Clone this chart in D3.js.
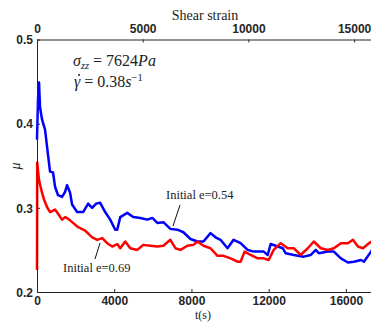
<!DOCTYPE html>
<html><head><meta charset="utf-8">
<script src="https://cdn.jsdelivr.net/npm/d3@7"></script>
<style>body{margin:0;background:#fff;}svg{display:block;}</style>
</head><body>
<script>
const blueT = [0,52,104,156,260,416,571,675,831,935,1091,1299,1455,1558,1714,1818,2078,2390,2649,2857,3065,3273,3532,3792,4052,4156,4312,4675,4987,5351,5714,5974,6234,6545,6909,7273,7584,7948,8312,8623,8987,9247,9506,9870,10182,10545,10909,11221,11740,11948,12104,12468,12727,12883,13299,13818,14182,14442,14597,15065,15377,15740,16104,16416,16779,16935,17299,17350];
const blueMu = [0.381,0.429,0.449,0.420,0.405,0.393,0.363,0.343,0.342,0.325,0.315,0.313,0.319,0.327,0.318,0.304,0.295,0.295,0.305,0.300,0.305,0.306,0.295,0.286,0.274,0.274,0.289,0.294,0.289,0.288,0.286,0.288,0.282,0.283,0.275,0.274,0.271,0.263,0.260,0.260,0.270,0.265,0.262,0.252,0.262,0.258,0.250,0.248,0.248,0.244,0.257,0.254,0.252,0.246,0.244,0.242,0.244,0.250,0.246,0.248,0.248,0.240,0.235,0.236,0.238,0.236,0.248,0.250];
const redT = [0,10,104,260,364,519,675,935,1091,1299,1455,1610,1818,2130,2494,2857,3117,3377,3636,3896,4156,4312,4571,4831,5195,5506,5870,6234,6545,6909,7169,7429,7792,8104,8312,8623,8987,9351,9662,10026,10390,10545,10753,11065,11429,11740,12000,12260,12623,12987,13299,13662,14026,14338,14701,15065,15377,15740,16104,16364,16623,16883,17195,17350];
const redMu = [0.226,0.354,0.333,0.318,0.310,0.301,0.295,0.298,0.293,0.286,0.289,0.287,0.283,0.277,0.273,0.265,0.262,0.264,0.258,0.254,0.257,0.252,0.260,0.252,0.250,0.256,0.255,0.254,0.255,0.262,0.252,0.250,0.255,0.256,0.260,0.255,0.252,0.243,0.243,0.240,0.236,0.236,0.248,0.244,0.240,0.240,0.238,0.250,0.258,0.252,0.252,0.244,0.252,0.260,0.252,0.250,0.252,0.258,0.258,0.262,0.254,0.252,0.258,0.260];
const xTicks = [0,4000,8000,12000,16000];
const topTicks = [0,5000,10000,15000];
const yTicks = [0.2,0.3,0.4,0.5];

const W = 371, H = 322;
const L = 37, R = 371, T = 39.5, B = 292;
const svg = d3.select("body").append("svg").attr("width",W).attr("height",H);
const x = d3.scaleLinear().domain([0,17300]).range([L,R]);
const xTop = d3.scaleLinear().domain([0,15800]).range([L,R]);
const y = d3.scaleLinear().domain([0.2,0.5]).range([B,T]);

const line = d3.line().x(d=>x(d[0])).y(d=>y(d[1]));
const blue = blueT.map((t,i)=>[t,blueMu[i]]);
const red = redT.map((t,i)=>[t,redMu[i]]);
const plot = svg.append("g");
plot.append("path").datum(blue).attr("d",line).attr("fill","none").attr("stroke","#0000ff").attr("stroke-width",2.5).attr("stroke-linejoin","round");
plot.append("path").datum(red).attr("d",line).attr("fill","none").attr("stroke","#ff0000").attr("stroke-width",2.5).attr("stroke-linejoin","round");

const tickFont = "bold 12px 'Liberation Sans', Arial, sans-serif";
const axColor = "#262626";
const gb = svg.append("g").attr("transform",`translate(0,${B})`)
  .call(d3.axisBottom(x).tickValues(xTicks).tickFormat(d3.format("d")).tickSizeInner(-3).tickSizeOuter(0).tickPadding(4));
const gt = svg.append("g").attr("transform",`translate(0,${T})`)
  .call(d3.axisTop(xTop).tickValues(topTicks).tickFormat(d3.format("d")).tickSizeInner(-3).tickSizeOuter(0).tickPadding(7));
const gl = svg.append("g").attr("transform",`translate(${L},0)`)
  .call(d3.axisLeft(y).tickValues(yTicks).tickFormat(d3.format(".1f")).tickSizeInner(-3).tickSizeOuter(0).tickPadding(4));
[gb,gt,gl].forEach(g=>{
  g.selectAll("path.domain").attr("stroke",axColor).attr("stroke-width",1);
  g.selectAll(".tick line").attr("stroke",axColor);
  g.selectAll(".tick text").attr("fill",axColor).style("font",tickFont);
});
gb.selectAll(".tick text").attr("dy","0.75em");
gl.selectAll(".tick text").attr("dy","0.36em");

const serif = "'Liberation Serif','DejaVu Serif',serif";
svg.append("text").attr("x",205).attr("y",20).attr("text-anchor","middle")
  .style("font-family",serif).style("font-size","14px").attr("fill","#222").text("Shear strain");
svg.append("text").attr("x",203).attr("y",319.2).attr("text-anchor","middle")
  .style("font-family",serif).style("font-size","12px").attr("fill","#222").text("t(s)");
svg.append("text").attr("transform","translate(20,166) rotate(-90)").attr("text-anchor","middle")
  .style("font-family",serif).style("font-size","14px").style("font-style","italic").attr("fill","#222").text("μ");

const f1 = svg.append("text").attr("x",73).attr("y",66).style("font-family",serif).style("font-size","16px").attr("fill","#222");
f1.append("tspan").style("font-style","italic").text("σ");
f1.append("tspan").attr("dy",2.5).style("font-style","italic").style("font-size","10.5px").text("zz");
f1.append("tspan").attr("dy",-2.5).text(" = 7624");
f1.append("tspan").style("font-style","italic").text("Pa");
const f2 = svg.append("text").attr("x",74).attr("y",87).style("font-family",serif).style("font-size","16px").attr("fill","#222");
f2.append("tspan").style("font-style","italic").text("γ");
f2.append("tspan").text(" = 0.38");
f2.append("tspan").style("font-style","italic").text("s");
f2.append("tspan").attr("dy",-6).style("font-size","10.5px").text("−1");
svg.append("circle").attr("cx",79).attr("cy",75).attr("r",1).attr("fill","#222");

svg.append("text").attr("x",166).attr("y",199).style("font-family",serif).style("font-size","12.5px").attr("fill","#222").text("Initial e=0.54");
svg.append("line").attr("x1",180).attr("y1",205).attr("x2",173).attr("y2",226).attr("stroke","#111").attr("stroke-width",1);
svg.append("text").attr("x",63).attr("y",272).style("font-family",serif).style("font-size","12.5px").attr("fill","#222").text("Initial e=0.69");
svg.append("line").attr("x1",100).attr("y1",243).attr("x2",95).attr("y2",259).attr("stroke","#111").attr("stroke-width",1);
</script>
</body></html>
